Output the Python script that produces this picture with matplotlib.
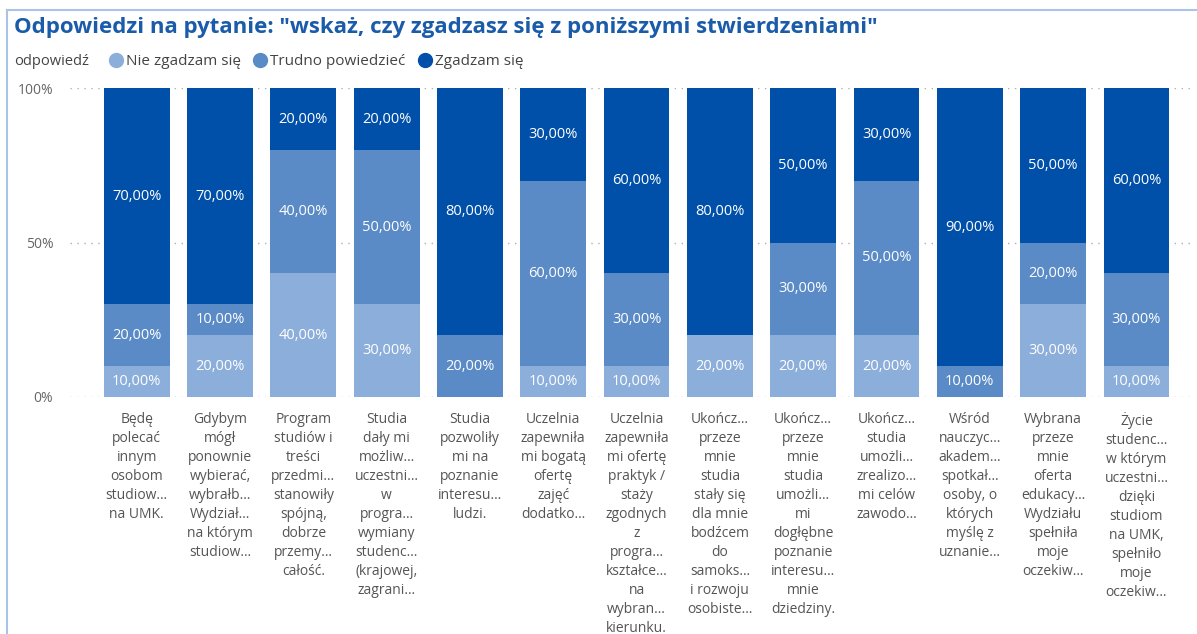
import numpy as np
import matplotlib
matplotlib.use("Agg")
import matplotlib.pyplot as plt
from matplotlib.lines import Line2D

plt.rcParams['font.family'] = ['Open Sans', 'DejaVu Sans']

categories = [
    "Będę\npolecać\ninnym\nosobom\nstudiow…\nna UMK.",
    "Gdybym\nmógł\nponownie\nwybierać,\nwybrałb…\nWydział…\nna którym\nstudiow…",
    "Program\nstudiów i\ntreści\nprzedmi…\nstanowiły\nspójną,\ndobrze\nprzemy…\ncałość.",
    "Studia\ndały mi\nmożliw…\nuczestni…\nw\nprogra…\nwymiany\nstudenc…\n(krajowej,\nzagrani…",
    "Studia\npozwoliły\nmi na\npoznanie\ninteresu…\nludzi.",
    "Uczelnia\nzapewniła\nmi bogatą\nofertę\nzajęć\ndodatko…",
    "Uczelnia\nzapewniła\nmi ofertę\npraktyk /\nstaży\nzgodnych\nz\nprogra…\nkształce…\nna\nwybran…\nkierunku.",
    "Ukończ…\nprzeze\nmnie\nstudia\nstały się\ndla mnie\nbodźcem\ndo\nsamoks…\ni rozwoju\nosobiste…",
    "Ukończ…\nprzeze\nmnie\nstudia\numożli…\nmi\ndogłębne\npoznanie\ninteresu…\nmnie\ndziedziny.",
    "Ukończ…\nstudia\numożli…\nzrealizo…\nmi celów\nzawodo…",
    "Wśród\nnauczyc…\nakadem…\nspotkał…\nosoby, o\nktórych\nmyślę z\nuznanie…",
    "Wybrana\nprzeze\nmnie\noferta\nedukacy…\nWydziału\nspełniła\nmoje\noczekiw…",
    "Życie\nstudenc…\nw którym\nuczestni…\ndzięki\nstudiom\nna UMK,\nspełniło\nmoje\noczekiw…",
]
nie_zgadzam = [10, 20, 40, 30, 0, 10, 10, 20, 20, 20, 0, 30, 10]
trudno = [20, 10, 40, 50, 20, 60, 30, 0, 30, 50, 10, 20, 30]
zgadzam = [70, 70, 20, 20, 80, 30, 60, 80, 50, 30, 90, 50, 60]

series = [("Nie zgadzam się", nie_zgadzam, "#8CAEDB"),
          ("Trudno powiedzieć", trudno, "#5A8BC6"),
          ("Zgadzam się", zgadzam, "#0050AA")]

fig = plt.figure(figsize=(11.97, 6.34), dpi=100)
ax = fig.add_axes([0.0585, 0.374, 0.9355, 0.487])

x = np.arange(len(categories))
bottom = np.zeros(len(categories))
for name, vals, col in series:
    vals = np.array(vals, dtype=float)
    ax.bar(x, vals, 0.79, bottom=bottom, color=col, zorder=2)
    for xi, b, v in zip(x, bottom, vals):
        if v > 0:
            ax.text(xi, b + v / 2, "%d,00%%" % v, ha='center', va='center',
                    color='white', fontsize=10.5, zorder=3)
    bottom += vals

ax.set_xlim(-0.8, 12.64)
ax.set_ylim(0, 100)
ax.set_yticks([0, 50, 100])
ax.set_yticklabels(["0%", "50%", "100%"], color="#666666", fontsize=10)
ax.yaxis.grid(True, linestyle=(0, (1, 4)), color="#B0B0B0", linewidth=1)
ax.set_axisbelow(True)
ax.set_xticks(x)
ax.set_xticklabels(categories, color="#555555", fontsize=10, linespacing=1.36,
                   va='top')
ax.tick_params(length=0)
ax.tick_params(axis='x', pad=11)
ax.tick_params(axis='y', pad=12)
for s in ax.spines.values():
    s.set_visible(False)

fig.text(0.012, 0.957, 'Odpowiedzi na pytanie: "wskaż, czy zgadzasz się z poniższymi stwierdzeniami"',
         fontsize=16, fontweight='bold', color="#1A5BAA", va='center')
fig.text(0.012, 0.903, "odpowiedź", fontsize=10.5, color="#444444", va='center')
handles = [Line2D([], [], marker='o', linestyle='none', markersize=10,
                  markerfacecolor=c, markeredgecolor=c) for _, _, c in series]
fig.legend(handles, [n for n, _, _ in series], loc='center left',
           bbox_to_anchor=(0.089, 0.903), ncol=3, frameon=False, fontsize=11,
           handletextpad=0.0, columnspacing=0.6, handlelength=1.3,
           labelcolor="#444444", borderaxespad=0, borderpad=0)

# frame
fig.add_artist(Line2D([0.006, 0.006], [0, 0.984], color="#A9C4E8", linewidth=1.5,
                      transform=fig.transFigure))
fig.add_artist(Line2D([0.006, 1.0], [0.984, 0.984], color="#A9C4E8", linewidth=1.5,
                      transform=fig.transFigure))

fig.savefig("out.png", dpi=100)
